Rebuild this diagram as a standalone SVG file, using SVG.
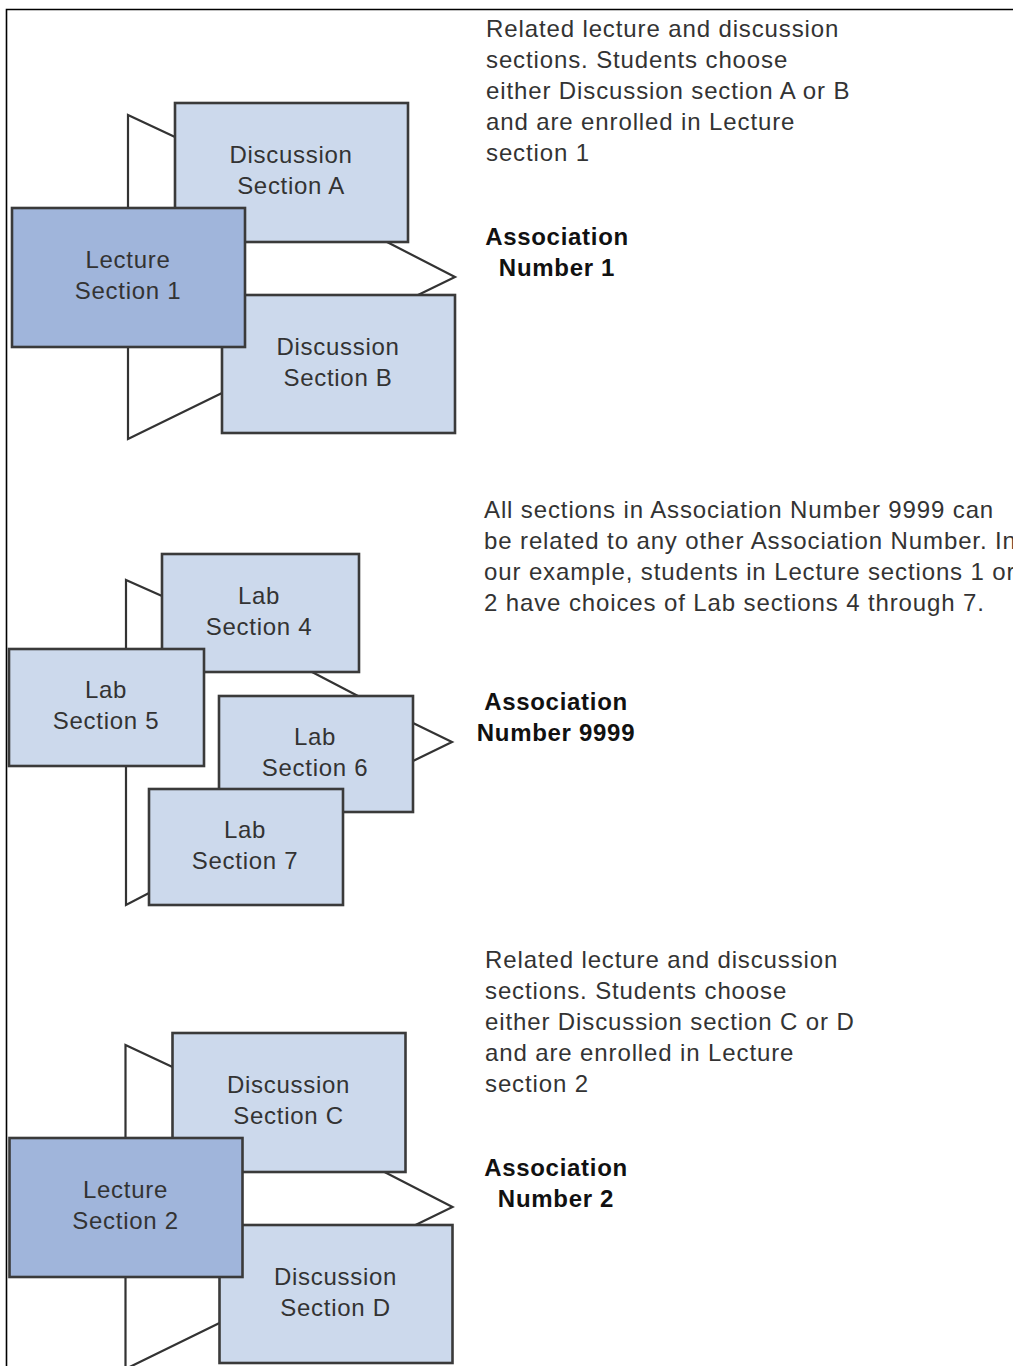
<svg xmlns="http://www.w3.org/2000/svg" width="1013" height="1366" viewBox="0 0 1013 1366">
<style>
  .frame{fill:none;stroke:#000;stroke-width:1.6}
  .fold{fill:#fff;stroke:#333;stroke-width:2.2;stroke-linejoin:miter}
  .box{fill:#CCD9EC;stroke:#3a3a3a;stroke-width:2.6}
  .lec{fill:#A0B5DB;stroke:#3a3a3a;stroke-width:2.6}
  .lbl{font-family:"Liberation Sans",Arial,sans-serif;font-size:24px;letter-spacing:0.7px;fill:#333;text-anchor:middle}
  .desc{font-family:"Liberation Sans",Arial,sans-serif;font-size:24px;letter-spacing:0.88px;fill:#333}
  .assoc{font-family:"Liberation Sans",Arial,sans-serif;font-size:24px;letter-spacing:0.7px;font-weight:bold;fill:#111;text-anchor:middle}
</style>
<rect width="1013" height="1366" fill="#fff"/>
<path class="frame" d="M6.5,1366 V9.5 H1013"/>

<g id="connectors">
  <polygon class="fold" points="128,115 175,137 387,242 455,277 418,295 222,393 128,439"/>
  <polygon class="fold" points="126,580 162,596 312,672 358,696 413,723 452,742 413,761 149,893 126,905"/>
  <polygon class="fold" points="125.5,1045 172.5,1067 384.5,1172 452.5,1207 415.5,1225 219.5,1323 125.5,1369"/>
</g>

<g id="discussion-a">
  <rect class="box" x="175" y="103" width="233" height="139"/>
  <text class="lbl" x="291" y="163">Discussion</text>
  <text class="lbl" x="291" y="194">Section A</text>
</g>
<g id="discussion-b">
  <rect class="box" x="222" y="295" width="233" height="138"/>
  <text class="lbl" x="338" y="355">Discussion</text>
  <text class="lbl" x="338" y="386">Section B</text>
</g>
<g id="lecture-1">
  <rect class="lec" x="12" y="208" width="233" height="139"/>
  <text class="lbl" x="128" y="268">Lecture</text>
  <text class="lbl" x="128" y="299">Section 1</text>
</g>

<g id="lab-4">
  <rect class="box" x="162" y="554" width="197" height="118"/>
  <text class="lbl" x="259" y="604">Lab</text>
  <text class="lbl" x="259" y="635">Section 4</text>
</g>
<g id="lab-5">
  <rect class="box" x="9" y="649" width="195" height="117"/>
  <text class="lbl" x="106" y="698">Lab</text>
  <text class="lbl" x="106" y="729">Section 5</text>
</g>
<g id="lab-6">
  <rect class="box" x="219" y="696" width="194" height="116"/>
  <text class="lbl" x="315" y="745">Lab</text>
  <text class="lbl" x="315" y="776">Section 6</text>
</g>
<g id="lab-7">
  <rect class="box" x="149" y="789" width="194" height="116"/>
  <text class="lbl" x="245" y="838">Lab</text>
  <text class="lbl" x="245" y="869">Section 7</text>
</g>

<g id="discussion-c">
  <rect class="box" x="172.5" y="1033" width="233" height="139"/>
  <text class="lbl" x="288.5" y="1093">Discussion</text>
  <text class="lbl" x="288.5" y="1124">Section C</text>
</g>
<g id="discussion-d">
  <rect class="box" x="219.5" y="1225" width="233" height="138"/>
  <text class="lbl" x="335.5" y="1285">Discussion</text>
  <text class="lbl" x="335.5" y="1316">Section D</text>
</g>
<g id="lecture-2">
  <rect class="lec" x="9.5" y="1138" width="233" height="139"/>
  <text class="lbl" x="125.5" y="1198">Lecture</text>
  <text class="lbl" x="125.5" y="1229">Section 2</text>
</g>

<g id="note-1">
  <text class="desc" x="486" y="37">Related lecture and discussion</text>
  <text class="desc" x="486" y="68">sections. Students choose</text>
  <text class="desc" x="486" y="99">either Discussion section A or B</text>
  <text class="desc" x="486" y="130">and are enrolled in Lecture</text>
  <text class="desc" x="486" y="161">section 1</text>
  <text class="assoc" x="557" y="245">Association</text>
  <text class="assoc" x="557" y="276">Number 1</text>
</g>
<g id="note-9999">
  <text class="desc" x="484" y="518">All sections in Association Number 9999 can</text>
  <text class="desc" x="484" y="549">be related to any other Association Number. In</text>
  <text class="desc" x="484" y="580">our example, students in Lecture sections 1 or</text>
  <text class="desc" x="484" y="611">2 have choices of Lab sections 4 through 7.</text>
  <text class="assoc" x="556" y="710">Association</text>
  <text class="assoc" x="556" y="741">Number 9999</text>
</g>
<g id="note-2">
  <text class="desc" x="485" y="968">Related lecture and discussion</text>
  <text class="desc" x="485" y="999">sections. Students choose</text>
  <text class="desc" x="485" y="1030">either Discussion section C or D</text>
  <text class="desc" x="485" y="1061">and are enrolled in Lecture</text>
  <text class="desc" x="485" y="1092">section 2</text>
  <text class="assoc" x="556" y="1176">Association</text>
  <text class="assoc" x="556" y="1207">Number 2</text>
</g>
</svg>
